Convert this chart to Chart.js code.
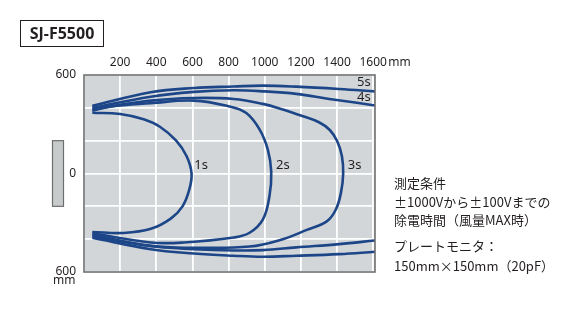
<!DOCTYPE html>
<html>
<head>
<meta charset="utf-8">
<script src="https://cdn.jsdelivr.net/npm/chart.js@4.4.1/dist/chart.umd.min.js"></script>
<style>
  html, body { margin: 0; padding: 0; background: #fff; }
  #wrap { position: relative; width: 576px; height: 324px; overflow: hidden; font-family: "Noto Sans CJK JP", "Noto Sans", sans-serif; color: #231f20; }
  #chart { position: absolute; left: 0; top: 0; }
  .model { position: absolute; left: 20px; top: 20px; width: 82px; height: 25px; border: 1px solid #231f20;
           font: bold 16px "Noto Sans", sans-serif; line-height: 25px; text-align: center; }
  .note { position: absolute; left: 394px; font-size: 13px; line-height: 18px; white-space: nowrap; }
</style>
</head>
<body>
<div id="wrap">
  <canvas id="chart" width="576" height="324"></canvas>
  <div class="model">SJ-F5500</div>
  <div class="note" style="top:174px">測定条件</div>
  <div class="note" style="top:193px">±1000Vから±100Vまでの</div>
  <div class="note" style="top:211px">除電時間（風量MAX時）</div>
  <div class="note" style="top:237px">プレートモニタ：</div>
  <div class="note" style="top:257px">150mm×150mm（20pF）</div>
</div>
<script>
// distance from ionizer (mm) / offset from center (mm)
const xTicks = [200, 400, 600, 800, 1000, 1200, 1400, 1600];
const yTicks = [-600, 0, 600];

const s1X = [46, 200, 330, 420, 510, 568, 595, 582, 545, 480, 370, 220, 46];
const s1Y = [370, 362, 330, 285, 200, 105, 0, -100, -200, -275, -337, -362, -356];

const s2X = [46, 150, 369, 608, 806, 898, 972, 1017, 1036, 1026, 990, 916, 828, 553, 369, 46];
const s2Y = [382, 408, 428, 444, 408, 368, 267, 145, 10, -138, -279, -361, -390, -420, -420, -364];

const s3X = [46, 369, 608, 828, 990, 1100, 1208, 1300, 1360, 1401, 1427, 1434, 1422, 1394, 1345, 1229, 1100, 916, 608, 369, 46];
const s3Y = [391, 444, 460, 454, 424, 390, 350, 312, 265, 196, 105, 0, -115, -218, -290, -345, -400, -445, -452, -441, -373];

const s4TopX = [46, 369, 608, 828, 1000, 1174, 1357, 1500, 1610];
const s4TopY = [400, 468, 497, 507, 500, 485, 454, 432, 414];
const s4BotX = [46, 369, 608, 828, 990, 1174, 1412, 1610];
const s4BotY = [-382, -442, -461, -469, -467, -450, -430, -408];

const s5TopX = [46, 369, 608, 828, 988, 1174, 1412, 1610];
const s5TopY = [412, 495, 521, 530, 535, 529, 515, 500];
const s5BotX = [46, 369, 608, 828, 990, 1174, 1412, 1610];
const s5BotY = [-391, -461, -487, -501, -507, -501, -491, -477];

const labelNames = ["1s", "2s", "3s", "4s", "5s"];
const labelX = [648, 1100, 1497, 1548, 1548];
const labelY = [52, 52, 52, 463, 554];

const lineColor = "#1d4689";

function pts(xs, ys) {
  return xs.map((x, i) => ({ x: x, y: ys[i] }));
}

function curve(xs, ys) {
  return {
    data: pts(xs, ys),
    showLine: true,
    borderColor: lineColor,
    borderWidth: 2.6,
    pointRadius: 0,
    tension: 0.4,
    fill: false
  };
}

const decor = {
  id: "decor",
  beforeDraw(chart) {
    const { ctx, chartArea: a, scales } = chart;
    ctx.save();
    ctx.fillStyle = "#d3d6d8";
    ctx.fillRect(a.left, a.top, a.right - a.left, a.bottom - a.top);
    // ionizer panel
    const top = scales.y.getPixelForValue(200);
    const bot = scales.y.getPixelForValue(-200);
    ctx.fillStyle = "#c8cbcc";
    ctx.strokeStyle = "#6e6e6e";
    ctx.lineWidth = 1.2;
    ctx.fillRect(a.left - 31.5, top, 11, bot - top);
    ctx.strokeRect(a.left - 31.5, top, 11, bot - top);
    ctx.restore();
  },
  afterDraw(chart) {
    const { ctx, chartArea: a, scales } = chart;
    ctx.save();
    ctx.strokeStyle = "#707070";
    ctx.lineWidth = 1.6;
    ctx.strokeRect(a.left, a.top, a.right - a.left, a.bottom - a.top);

    ctx.fillStyle = "#231f20";
    ctx.font = "13px 'Noto Sans'";
    ctx.textAlign = "center";
    ctx.textBaseline = "middle";
    labelNames.forEach((name, i) => {
      ctx.fillText(name, scales.x.getPixelForValue(labelX[i]), scales.y.getPixelForValue(labelY[i]));
    });

    ctx.font = "12px 'Noto Sans'";
    ctx.textAlign = "left";
    ctx.fillText("mm", scales.x.getPixelForValue(1600) + 15, a.top - 12.5);
    ctx.fillText("mm", a.left - 31, a.bottom + 9);
    ctx.restore();
  }
};

new Chart(document.getElementById("chart"), {
  type: "scatter",
  data: {
    datasets: [
      curve(s1X, s1Y),
      curve(s2X, s2Y),
      curve(s3X, s3Y),
      curve(s4TopX, s4TopY),
      curve(s4BotX, s4BotY),
      curve(s5TopX, s5TopY),
      curve(s5BotX, s5BotY)
    ]
  },
  options: {
    responsive: false,
    animation: false,
    layout: { padding: { left: 44, top: 50, right: 201, bottom: 52 } },
    plugins: { legend: { display: false }, tooltip: { enabled: false } },
    scales: {
      x: {
        type: "linear",
        position: "top",
        min: 0,
        max: 1610,
        afterFit: s => { s.height = 25; },
        afterBuildTicks: s => { s.ticks = [0].concat(xTicks).map(v => ({ value: v })); },
        ticks: {
          includeBounds: false,
          padding: 5,
          color: "#231f20",
          font: { family: "Noto Sans", size: 12 },
          callback: v => (xTicks.includes(v) ? String(v) : "")
        },
        grid: { color: "#ffffff", lineWidth: 1.8, drawTicks: false },
        border: { display: false }
      },
      y: {
        type: "linear",
        min: -600,
        max: 600,
        afterFit: s => { s.width = 40; },
        afterBuildTicks: s => { s.ticks = [-600, -400, -200, 0, 200, 400, 600].map(v => ({ value: v })); },
        ticks: {
          padding: 8,
          color: "#231f20",
          font: { family: "Noto Sans", size: 12 },
          callback: v => (yTicks.includes(v) ? String(Math.abs(v)) : "")
        },
        grid: { color: "#ffffff", lineWidth: 1.8, drawTicks: false },
        border: { display: false }
      }
    }
  },
  plugins: [decor]
});
</script>
</body>
</html>
